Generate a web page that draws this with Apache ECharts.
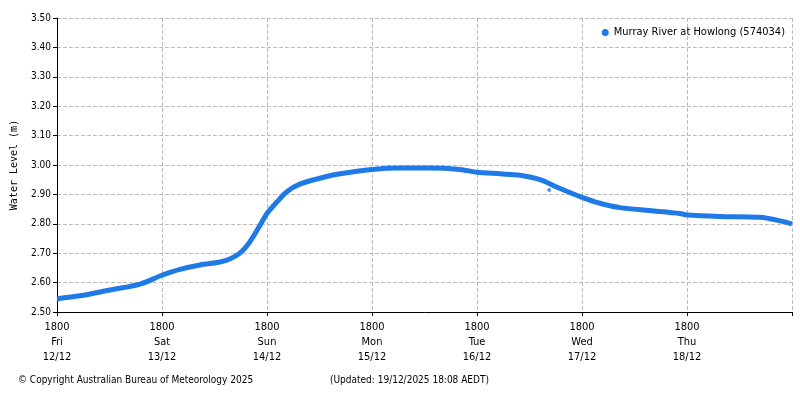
<!DOCTYPE html>
<html><head><meta charset="utf-8">
<script src="https://cdn.jsdelivr.net/npm/echarts@6/dist/echarts.min.js"></script>
<style>body{margin:0}#c{width:800px;height:400px}</style></head>
<body><div id="c"></div>
<script>
// hours since Fri 12/12 18:00
var hours  = [0, 5.3, 12.1, 19, 24, 28.1, 32.7, 37.3, 39.5, 41.8, 43.9, 46.2, 48, 50.3, 52.6, 55.5, 60.1, 64.7, 72, 78.4, 85.3, 92.1, 96, 101.3, 105.8, 110.4, 115, 120, 124.1, 128.7, 135.5, 142.4, 144, 151.5, 160.7, 165.3, 168];
var levels = [2.545, 2.555, 2.575, 2.595, 2.625, 2.645, 2.66, 2.67, 2.68, 2.70, 2.735, 2.79, 2.835, 2.875, 2.91, 2.935, 2.955, 2.97, 2.985, 2.99, 2.99, 2.985, 2.975, 2.97, 2.965, 2.95, 2.92, 2.89, 2.87, 2.855, 2.845, 2.835, 2.83, 2.825, 2.822, 2.81, 2.80];
var outlier = [[112.5, 2.915]];
var dayNames = ['Fri', 'Sat', 'Sun', 'Mon', 'Tue', 'Wed', 'Thu'];
var dates = ['12/12', '13/12', '14/12', '15/12', '16/12', '17/12', '18/12'];
var seriesName = 'Murray River at Howlong (574034)';

var pts = hours.map(function (h, i) { return [h, levels[i]]; });
var col = '#1f7ae6';
var chart = echarts.init(document.getElementById('c'));
chart.setOption({
  animation: false,
  grid: {left: 57, right: 8, top: 18, bottom: 88},
  legend: {right: 10, top: 22, itemWidth: 7, itemHeight: 7, itemGap: 4, icon: 'circle',
    textStyle: {fontFamily: 'DejaVu Sans Condensed', fontSize: 11, color: '#000'}, data: [seriesName]},
  xAxis: {type: 'value', min: 0, max: 168, interval: 24,
    axisLine: {lineStyle: {color: '#000'}}, axisTick: {show: true, length: 4, lineStyle: {color: '#000'}},
    splitLine: {lineStyle: {color: '#bbb', type: 'dashed'}},
    axisLabel: {color: '#000', fontFamily: 'DejaVu Sans Condensed', fontSize: 11, lineHeight: 15,
      formatter: function (v) { var i = v / 24; return i < 7 ? '1800\n' + dayNames[i] + '\n' + dates[i] : ''; }}},
  yAxis: {type: 'value', min: 2.5, max: 3.5, interval: 0.1,
    name: 'Water Level (m)', nameLocation: 'middle', nameGap: 38,
    nameTextStyle: {fontFamily: 'DejaVu Sans Mono', fontSize: 10, color: '#000'},
    axisLine: {show: true, lineStyle: {color: '#000'}}, axisTick: {show: true, length: 4},
    splitLine: {lineStyle: {color: '#bbb', type: 'dashed'}},
    axisLabel: {color: '#000', fontFamily: 'DejaVu Sans Condensed', fontSize: 10, margin: 6, formatter: function (v) { return v.toFixed(2); }}},
  series: [
    {name: seriesName, type: 'line', data: pts, smooth: 0.3, showSymbol: false, symbol: 'circle',
      itemStyle: {color: col}, lineStyle: {color: col, width: 5}},
    {name: seriesName, type: 'scatter', data: outlier, symbolSize: 4, itemStyle: {color: col}}
  ],
  graphic: [
    {type: 'text', left: 18, top: 375, style: {text: '\u00a9 Copyright Australian Bureau of Meteorology 2025', font: '10px DejaVu Sans Condensed', fill: '#000'}},
    {type: 'text', left: 330, top: 375, style: {text: '(Updated: 19/12/2025 18:08 AEDT)', font: '10px DejaVu Sans Condensed', fill: '#000'}}
  ]
});
</script></body></html>
